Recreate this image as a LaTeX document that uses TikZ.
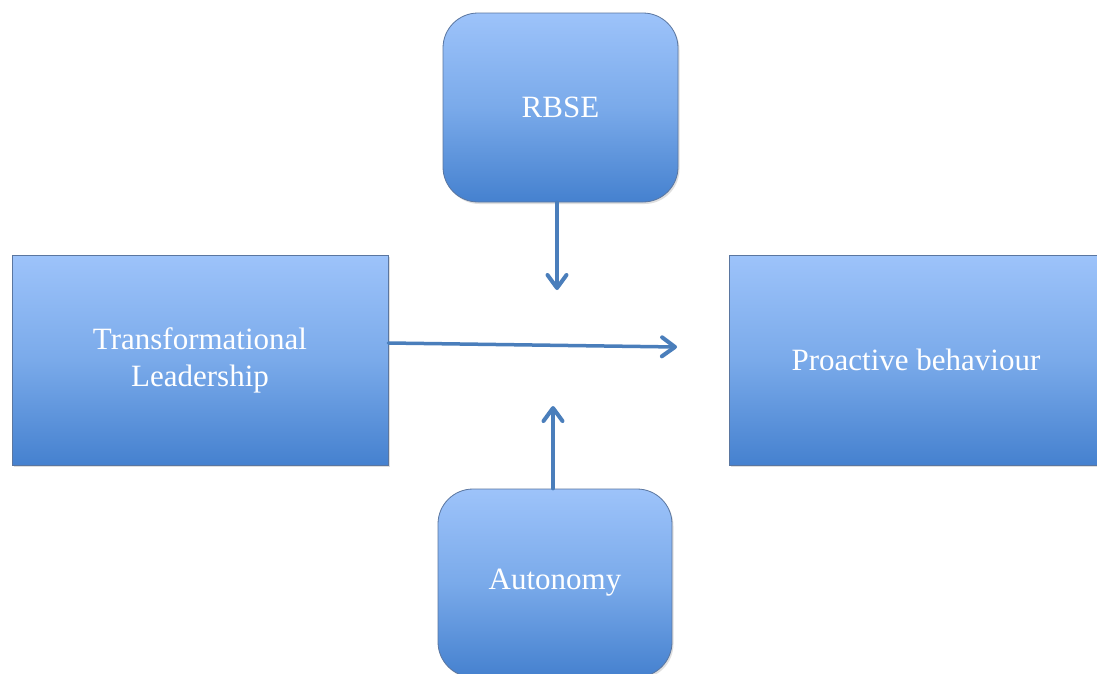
\documentclass[tikz,border=0pt]{standalone}
\usepackage{fontspec}
\setmainfont{Liberation Serif}
\usetikzlibrary{arrows.meta,shadows}
\definecolor{boxtop}{HTML}{9DC3FA}
\definecolor{boxmid}{HTML}{7AAAEA}
\definecolor{boxbot}{HTML}{4581CF}
\definecolor{boxline}{HTML}{5A76A0}
\definecolor{arrcol}{HTML}{4A7EBB}
\tikzset{
  box/.style={draw=boxline, line width=0.8pt, top color=boxtop, bottom color=boxbot, middle color=boxmid,
    shading angle=0, text=white, font=\fontsize{31}{37}\selectfont, align=center, inner sep=0pt,
    drop shadow={opacity=0.25, shadow xshift=1.5pt, shadow yshift=-2pt}},
  rbox/.style={box, rounded corners=35pt},
  arr/.style={draw=arrcol, line width=3.5pt, line cap=round,
    -{Straight Barb[length=13pt,width=19pt,line width=0pt 1.15,round]}},
}
\begin{document}
\begin{tikzpicture}[x=1pt,y=-1pt]
\clip (0,0) rectangle (1097,673);
\fill[white] (0,0) rectangle (1097,673);
\node[rbox, minimum width=235pt, minimum height=189pt] (rbse) at (560.5,107.5) {RBSE};
\node[box, minimum width=376pt, minimum height=210pt] (tl) at (200,360) {Transformational\\Leadership};
\node[box, minimum width=374pt, minimum height=210pt] (pb) at (916,360) {Proactive behaviour};
\node[rbox, minimum width=234pt, minimum height=188pt] (aut) at (555,583) {Autonomy};
\coordinate (m1) at (557,290);
\coordinate (m2) at (677,347);
\coordinate (m3) at (553,406);
\draw[arr] (rbse.south -| m1) -- (m1);
\draw[arr] (tl.east |- 0,343) -- (m2);
\draw[arr] (aut.north -| m3) -- (m3);
\end{tikzpicture}
\end{document}
